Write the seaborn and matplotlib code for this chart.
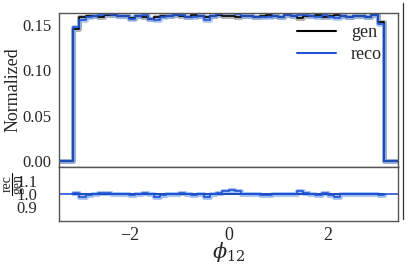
import numpy as np
import matplotlib
matplotlib.use("Agg")
import matplotlib.pyplot as plt
from matplotlib.lines import Line2D
import seaborn as sns

# ---- data (normalized histograms, 50 bins on [-pi, pi])
gen = [0.146, 0.159, 0.160, 0.160, 0.159, 0.161, 0.161, 0.160, 0.160, 0.158,
       0.160, 0.159, 0.157, 0.159, 0.160, 0.160, 0.161, 0.160, 0.159, 0.161,
       0.160, 0.159, 0.160, 0.161, 0.160, 0.160, 0.159, 0.160, 0.160, 0.159,
       0.160, 0.161, 0.160, 0.159, 0.161, 0.160, 0.158, 0.160, 0.160, 0.161,
       0.159, 0.160, 0.161, 0.160, 0.159, 0.160, 0.160, 0.159, 0.161, 0.153]
reco = [0.1475, 0.1558, 0.1584, 0.1600, 0.1606, 0.1626, 0.1610, 0.1600, 0.1600, 0.1564,
        0.1600, 0.1606, 0.1570, 0.1558, 0.1584, 0.1600, 0.1610, 0.1616, 0.1590, 0.1594,
        0.1600, 0.1558, 0.1600, 0.1626, 0.1632, 0.1648, 0.1622, 0.1600, 0.1600, 0.1590,
        0.1584, 0.1594, 0.1600, 0.1590, 0.1610, 0.1600, 0.1612, 0.1616, 0.1600, 0.1594,
        0.1606, 0.1584, 0.1578, 0.1600, 0.1590, 0.1600, 0.1600, 0.1590, 0.1610, 0.1515]
labels = ["gen", "reco"]
xticks = [-2, 0, 2]
yticks_top = [0.00, 0.05, 0.10, 0.15]
yticks_bot = [0.9, 1.0, 1.1]

n_bins = len(gen)
x_lo, x_hi = -3.43, 3.43
edges = np.concatenate([[x_lo], np.linspace(-np.pi, np.pi, n_bins + 1), [x_hi]])

def padded(vals):
    # zero outside [-pi, pi], repeat last value for steps-post
    v = np.concatenate([[0.0], vals, [0.0]])
    return np.append(v, v[-1])

gen_a = np.array(gen)
reco_a = np.array(reco)
ratio_gen = gen_a / gen_a
ratio_reco = reco_a / gen_a

blue = "#1f55d6"
lightblue = "#7fa6ee"

sns.set_style("white")
plt.rcParams['font.family'] = ['Liberation Serif', 'DejaVu Serif']
plt.rcParams['mathtext.fontset'] = 'dejavuserif'

W, H = 411, 265
fig = plt.figure(figsize=(W / 100, H / 100), dpi=100)
ax1 = fig.add_axes([59/W, 1 - 167/H, 339/W, 154/H])
ax2 = fig.add_axes([59/W, 1 - 221/H, 339/W, 54/H], sharex=ax1)

# upper panel
sns.lineplot(x=edges, y=padded(gen_a), drawstyle='steps-post', estimator=None,
             color='gray', lw=3.5, alpha=0.6, ax=ax1)
sns.lineplot(x=edges, y=padded(reco_a), drawstyle='steps-post', estimator=None,
             color=lightblue, lw=3.5, alpha=0.6, ax=ax1)
sns.lineplot(x=edges, y=padded(gen_a), drawstyle='steps-post', estimator=None,
             color='black', lw=1.2, ax=ax1)
sns.lineplot(x=edges, y=padded(reco_a), drawstyle='steps-post', estimator=None,
             color=blue, lw=1.2, ax=ax1)

handles = [Line2D([], [], color='black', lw=1.5), Line2D([], [], color=blue, lw=1.5)]
ax1.legend(handles, labels, loc='upper right', bbox_to_anchor=(1.0, 1.035),
           frameon=False, fontsize=13, handlelength=2.2, labelspacing=0.3)

ax1.set_xlim(x_lo, x_hi)
ax1.set_ylim(-0.0068, 0.1633)
ax1.set_yticks(yticks_top)
ax1.set_yticklabels([f"{t:.2f}" for t in yticks_top], fontsize=12)
ax1.set_ylabel("Normalized", fontsize=13)
ax1.tick_params(axis='x', labelbottom=False)
ax1.tick_params(axis='y', pad=2)
ax1.set_xlabel("")

# ratio panel
rx = edges[1:-1]
sns.lineplot(x=rx, y=np.append(ratio_reco, ratio_reco[-1]), drawstyle='steps-post',
             estimator=None, color=lightblue, lw=3.5, alpha=0.7, ax=ax2)
sns.lineplot(x=rx, y=np.append(ratio_gen, ratio_gen[-1]), drawstyle='steps-post',
             estimator=None, color='black', lw=1.2, ax=ax2)
sns.lineplot(x=rx, y=np.append(ratio_reco, ratio_reco[-1]), drawstyle='steps-post',
             estimator=None, color=blue, lw=1.2, ax=ax2)
ax2.axhline(1.0, color=blue, lw=1.2)

ax2.set_ylim(0.79, 1.21)
ax2.set_yticks(yticks_bot)
ax2.set_yticklabels([f"{t:.1f}" for t in yticks_bot], fontsize=12)
ax2.set_xticks(xticks)
ax2.set_xticklabels([f"\u2212{abs(t)}" if t < 0 else str(t) for t in xticks], fontsize=13)
ax2.tick_params(axis='x', pad=1)
ax2.tick_params(axis='y', pad=12)
ax2.set_ylabel("")
ax2.set_xlabel(r"$\phi_{12}$", fontsize=15)

# rec / gen fraction as y label of the ratio panel (rotated)
fig.text(7/W, 1 - 184/H, "rec", rotation=90, ha='center', va='center', fontsize=10)
fig.text(17.5/W, 1 - 184/H, "gen", rotation=90, ha='center', va='center', fontsize=10)
fig.add_artist(Line2D([12/W, 12/W], [1 - 173/H, 1 - 195/H], color='black', lw=0.8))

for ax in (ax1, ax2):
    for s in ax.spines.values():
        s.set_color('#555555')
        s.set_linewidth(1.0)

ax1.yaxis.set_label_coords(-0.11, 0.5)
ax2.xaxis.set_label_coords(0.5, -0.35)

# frame edge of neighbouring panel seen at the right border
fig.add_artist(Line2D([403/W, 403/W], [1 - 3/H, 1 - 219/H], color='#333333', lw=0.9))

fig.savefig("out.png", dpi=100)
